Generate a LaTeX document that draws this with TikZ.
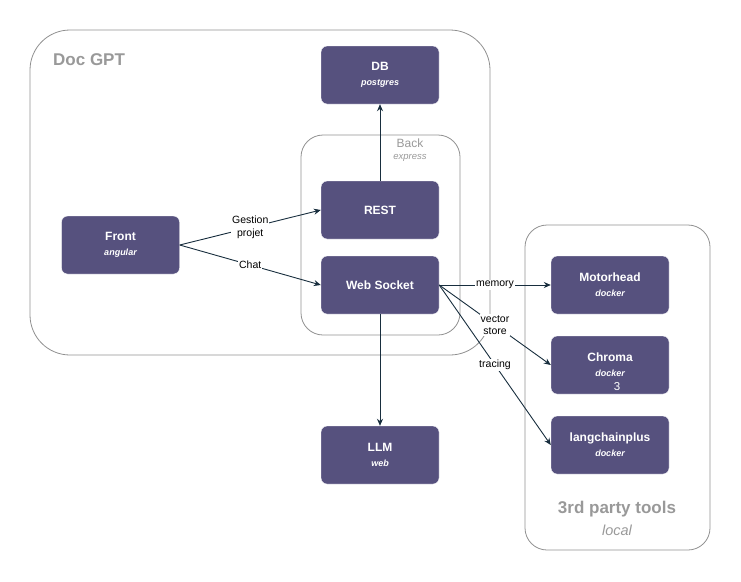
\documentclass[tikz,border=0pt]{standalone}
\usepackage{fontspec}
\setmainfont{Liberation Sans}
\usetikzlibrary{arrows.meta}
\definecolor{boxfill}{HTML}{56517E}
\definecolor{edge}{HTML}{182E3E}
\definecolor{cont}{HTML}{909090}
\definecolor{ctext}{HTML}{999999}
\tikzset{
  comp/.style={draw=white, fill=boxfill, rounded corners=6pt, minimum width=118pt, minimum height=58pt, inner sep=0pt, text=white, align=center},
  container/.style={draw=cont, line width=0.8pt, rounded corners=#1},
  link/.style={draw=edge, line width=0.9pt, -{Stealth[length=7pt,width=6pt]}},
  lbl/.style={fill=white, inner sep=1pt, font=\fontsize{10.5}{12.5}\selectfont, align=center, text=black},
}
\newcommand{\ttl}[1]{{\fontsize{12}{13}\selectfont\bfseries #1}}
\newcommand{\subt}[1]{{\fontsize{9}{10}\selectfont\bfseries\itshape #1}}
\begin{document}
\begin{tikzpicture}[x=1pt,y=-1pt]
\useasboundingbox (0,0) rectangle (741,581);
% containers
\draw[container=40pt] (30,30) rectangle (490,355);
\node[text=ctext, font=\fontsize{17}{20}\selectfont\bfseries, anchor=west, inner sep=0pt] (docgpt) at (53,60) {Doc GPT};
\draw[container=22pt] (301,135) rectangle (460,335);
\node[text=ctext, font=\fontsize{12}{14}\selectfont] (backl) at (410,143) {Back};
\node[text=ctext, font=\fontsize{9.5}{11}\selectfont\itshape] (backs) at (410,158) {express};
\draw[container=22pt] (525,225) rectangle (710,550);
\node[text=ctext, font=\fontsize{17}{20}\selectfont\bfseries] (tpl) at (617,509) {3rd party tools};
\node[text=ctext, font=\fontsize{14.5}{17}\selectfont\itshape] (tps) at (617,530) {local};
% components
\node[comp] (db) at (380,75) {\ttl{DB}\\[3pt]\subt{postgres}};
\node[comp] (rest) at (380,210) {\ttl{REST}};
\node[comp] (ws) at (380,285) {\ttl{Web Socket}};
\node[comp] (front) at (120.5,245) {\ttl{Front}\\[3pt]\subt{angular}};
\node[comp] (llm) at (380,455) {\ttl{LLM}\\[3pt]\subt{web}};
\node[comp] (motor) at (610,285) {\ttl{Motorhead}\\[3pt]\subt{docker}};
\node[comp] (chroma) at (610,365) {\ttl{Chroma}\\[3pt]\subt{docker}};
\node[text=white, font=\fontsize{11.5}{12}\selectfont, inner sep=0pt] (three) at (617,387) {3};
\node[comp] (lcp) at (610,445) {\ttl{langchainplus}\\[3pt]\subt{docker}};
% connectors
\draw[link] (rest.north) -- (db.south);
\draw[link] (ws.south) -- (llm.north);
\draw[link] (front.east) -- node[lbl, pos=0.5] {Gestion\\projet} (rest.west);
\draw[link] (front.east) -- node[lbl, pos=0.5] {Chat} (ws.west);
\draw[link] (ws.east) -- node[lbl, pos=0.5] {memory} (motor.west);
\draw[link] (ws.east) -- node[lbl, pos=0.5] {vector\\store} (chroma.west);
\draw[link] (ws.east) -- node[lbl, pos=0.5] {tracing} (lcp.west);
\end{tikzpicture}
\end{document}
